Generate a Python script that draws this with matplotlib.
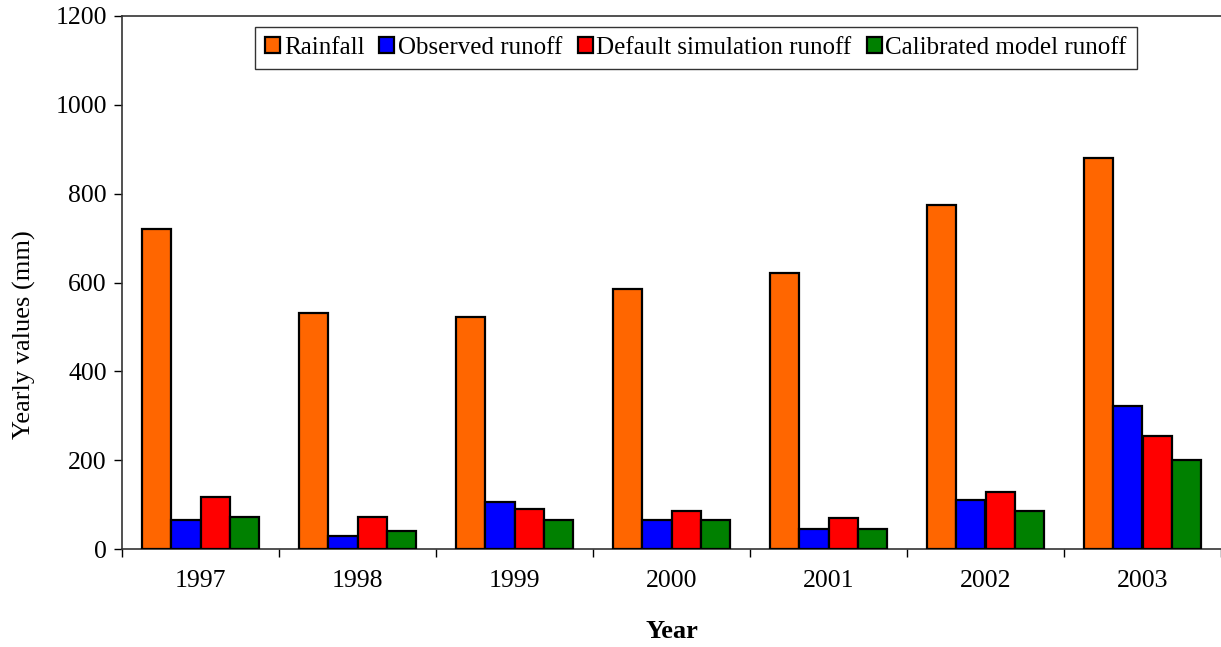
import matplotlib
matplotlib.use("Agg")
import matplotlib.pyplot as plt
import numpy as np
from matplotlib.ticker import FixedLocator, NullFormatter

years = ["1997", "1998", "1999", "2000", "2001", "2002", "2003"]
rainfall = [720, 531, 522, 585, 622, 775, 881]
observed = [65, 29, 106, 65, 45, 110, 322]
default_sim = [117, 72, 90, 85, 70, 128, 255]
calibrated = [72, 40, 65, 65, 45, 85, 201]

series_names = ["Rainfall", "Observed runoff", "Default simulation runoff", "Calibrated model runoff"]
series_values = [rainfall, observed, default_sim, calibrated]
colors = ["#FF6600", "#0000FF", "#FF0000", "#008000"]

plt.rcParams['font.family'] = ['Liberation Serif', 'DejaVu Serif']

fig = plt.figure(figsize=(12.21, 6.47), dpi=100)
ax = fig.add_axes([122/1221, 1-549/647, 1-122/1221, (549-16)/647])

x = np.arange(len(years))
w = 0.185
for i, (name, vals, c) in enumerate(zip(series_names, series_values, colors)):
    ax.bar(x + (i - 1.5) * w, vals, width=w, color=c, edgecolor='black',
           linewidth=1.6, label=name, zorder=3)

ax.set_xlim(-0.5, len(years) - 0.5)
ax.set_ylim(0, 1200)
ax.set_yticks(np.arange(0, 1201, 200))
ax.tick_params(axis='y', direction='out', length=6, width=1, labelsize=18.5, pad=5)

ax.xaxis.set_major_locator(FixedLocator(np.arange(-0.5, len(years), 1.0)))
ax.xaxis.set_major_formatter(NullFormatter())
ax.xaxis.set_minor_locator(FixedLocator(x))
ax.set_xticklabels(years, minor=True)
ax.tick_params(axis='x', which='major', direction='out', length=6, width=1)
ax.tick_params(axis='x', which='minor', length=0, labelsize=18.5, pad=15)

for s in ['left', 'bottom', 'top']:
    ax.spines[s].set_linewidth(1.2)
    ax.spines[s].set_color('#333333')
ax.spines['right'].set_visible(False)

ax.set_ylabel("Yearly values (mm)", fontsize=19)
ax.yaxis.set_label_coords(-86/1099, (549-335)/533)
ax.set_xlabel("Year", fontsize=19, fontweight='bold')
ax.xaxis.label.set_verticalalignment('center')
ax.xaxis.set_label_coords(0.5, -(632-549)/533)

leg = fig.legend(loc='upper left', bbox_to_anchor=(255/1221, 1-27/647), ncol=4,
                 fontsize=18, frameon=True, fancybox=False, edgecolor='black',
                 handlelength=0.6, handleheight=0.6, handletextpad=0.15,
                 columnspacing=0.6, borderpad=0.4, borderaxespad=0)
leg.get_frame().set_linewidth(1.0)

fig.savefig("out.png", dpi=100)
